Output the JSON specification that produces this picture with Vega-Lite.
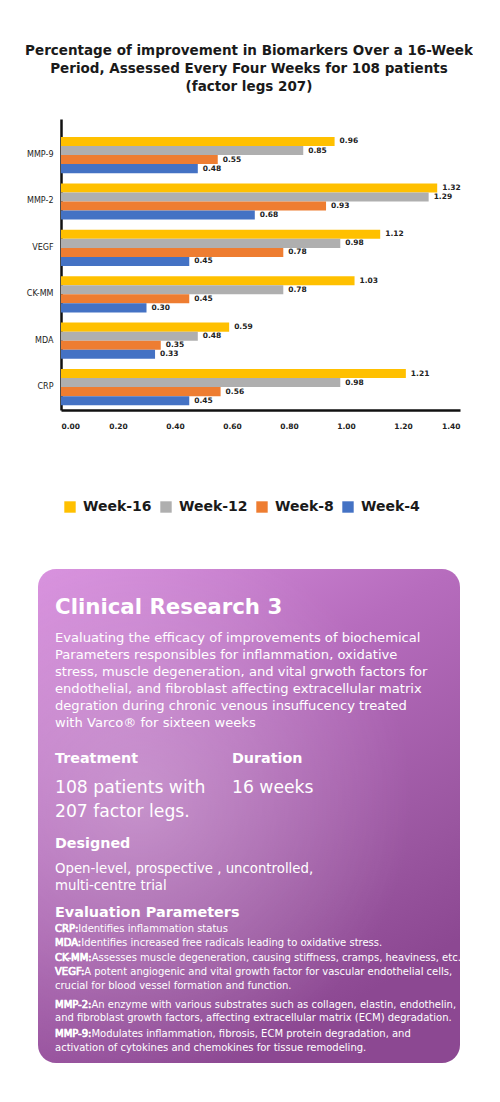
{
  "$schema": "https://vega.github.io/schema/vega-lite/v6.json",
  "background": "white",
  "padding": {"left": 25, "top": 43, "right": 0, "bottom": 0},
  "bounds": "flush",
  "spacing": 159,
  "config": {"view": {"stroke": null}},
  "vconcat": [
    {
      "width": 422,
      "height": 291,
      "title": {
        "text": ["Percentage of improvement in Biomarkers Over a 16-Week", "Period, Assessed Every Four Weeks for 108 patients", "(factor legs 207)"],
        "font": "DejaVu Sans",
        "fontSize": 13.5,
        "fontWeight": "bold",
        "lineHeight": 18,
        "color": "#1a1a1a",
        "anchor": "middle",
        "offset": 26
      },
      "data": {
        "values": [
          {"marker": "MMP-9", "week": "Week-16", "value": 0.96},
          {"marker": "MMP-9", "week": "Week-12", "value": 0.85},
          {"marker": "MMP-9", "week": "Week-8", "value": 0.55},
          {"marker": "MMP-9", "week": "Week-4", "value": 0.48},
          {"marker": "MMP-2", "week": "Week-16", "value": 1.32},
          {"marker": "MMP-2", "week": "Week-12", "value": 1.29},
          {"marker": "MMP-2", "week": "Week-8", "value": 0.93},
          {"marker": "MMP-2", "week": "Week-4", "value": 0.68},
          {"marker": "VEGF", "week": "Week-16", "value": 1.12},
          {"marker": "VEGF", "week": "Week-12", "value": 0.98},
          {"marker": "VEGF", "week": "Week-8", "value": 0.78},
          {"marker": "VEGF", "week": "Week-4", "value": 0.45},
          {"marker": "CK-MM", "week": "Week-16", "value": 1.03},
          {"marker": "CK-MM", "week": "Week-12", "value": 0.78},
          {"marker": "CK-MM", "week": "Week-8", "value": 0.45},
          {"marker": "CK-MM", "week": "Week-4", "value": 0.30},
          {"marker": "MDA", "week": "Week-16", "value": 0.59},
          {"marker": "MDA", "week": "Week-12", "value": 0.48},
          {"marker": "MDA", "week": "Week-8", "value": 0.35},
          {"marker": "MDA", "week": "Week-4", "value": 0.33},
          {"marker": "CRP", "week": "Week-16", "value": 1.21},
          {"marker": "CRP", "week": "Week-12", "value": 0.98},
          {"marker": "CRP", "week": "Week-8", "value": 0.56},
          {"marker": "CRP", "week": "Week-4", "value": 0.45}
        ]
      },
      "encoding": {
        "y": {
          "field": "marker",
          "type": "nominal",
          "sort": ["MMP-9", "MMP-2", "VEGF", "CK-MM", "MDA", "CRP"],
          "scale": {"paddingInner": 0.22, "paddingOuter": 0.245, "align": 0.79},
          "axis": {
            "title": null,
            "offset": -23,
            "ticks": false,
            "domainColor": "#111111",
            "domainWidth": 2.5,
            "labelFont": "DejaVu Sans",
            "labelFontSize": 8,
            "labelColor": "#222222",
            "labelPadding": 8,
            "grid": false
          }
        },
        "yOffset": {
          "field": "week",
          "type": "nominal",
          "sort": ["Week-16", "Week-12", "Week-8", "Week-4"],
          "scale": {"paddingInner": 0, "paddingOuter": 0}
        },
        "x": {
          "field": "value",
          "type": "quantitative",
          "scale": {"domain": [0, 1.4], "range": [23, 422], "nice": false, "zero": true},
          "axis": {
            "title": null,
            "values": [0, 0.2, 0.4, 0.6, 0.8, 1.0, 1.2, 1.4],
            "format": ".2f",
            "ticks": false,
            "grid": false,
            "domainColor": "#111111",
            "domainWidth": 2.5,
            "labelFont": "DejaVu Sans",
            "labelFontWeight": "bold",
            "labelFontSize": 7.5,
            "labelColor": "#222222",
            "labelPadding": 12
          }
        }
      },
      "layer": [
        {
          "mark": {"type": "bar"},
          "encoding": {
            "color": {
              "field": "week",
              "type": "nominal",
              "scale": {
                "domain": ["Week-16", "Week-12", "Week-8", "Week-4"],
                "range": ["#FFC000", "#AFAFAF", "#EE7D31", "#4472C4"]
              },
              "legend": {
                "orient": "none",
                "legendX": 25,
                "legendY": 381,
                "direction": "horizontal",
                "title": null,
                "symbolType": "square",
                "symbolSize": 130,
                "symbolStrokeWidth": 0,
                "symbolOpacity": 1,
                "labelFont": "DejaVu Sans",
                "labelFontWeight": "bold",
                "labelFontSize": 14,
                "labelColor": "#1a1a1a",
                "labelOffset": 6,
                "columnPadding": 7
              }
            }
          }
        },
        {
          "mark": {
            "type": "text",
            "align": "left",
            "baseline": "middle",
            "dx": 5,
            "font": "DejaVu Sans",
            "fontWeight": "bold",
            "fontSize": 7.5,
            "color": "#222222"
          },
          "encoding": {
            "text": {"field": "value", "type": "quantitative", "format": ".2f"}
          }
        }
      ]
    },
    {
      "width": 422,
      "height": 494,
      "layer": [
        {
          "data": {"values": [{}]},
          "mark": {
            "type": "rect",
            "cornerRadius": 18,
            "color": {
              "gradient": "linear",
              "x1": 0, "y1": 0, "x2": 0.5, "y2": 1,
              "stops": [
                {"offset": 0, "color": "#D890DE"},
                {"offset": 0.4, "color": "#B66CBD"},
                {"offset": 0.8, "color": "#9A56A0"},
                {"offset": 1, "color": "#8C4892"}
              ]
            }
          },
          "encoding": {}
        },
        {
          "data": {"values": [{}]},
          "mark": {
            "type": "rect",
            "cornerRadius": 18,
            "color": {
              "gradient": "radial",
              "x1": 0.28, "y1": 0.47, "r1": 0,
              "x2": 0.28, "y2": 0.47, "r2": 0.55,
              "stops": [
                {"offset": 0, "color": "rgba(255,255,255,0.28)"},
                {"offset": 0.5, "color": "rgba(255,255,255,0.14)"},
                {"offset": 1, "color": "rgba(255,255,255,0)"}
              ]
            }
          },
          "encoding": {}
        },
        {
          "data": {"values": [{"col": "a", "line": 0, "text": "Clinical Research 3"}]},
          "mark": {"type": "text", "align": "left", "baseline": "middle", "font": "DejaVu Sans", "fontWeight": "bold", "fontSize": 21.3, "color": "#FFFFFF"},
          "encoding": {
            "x": {"field": "col", "type": "nominal", "scale": {"type": "point", "domain": ["a", "b"], "range": [17, 194], "padding": 0}, "axis": null},
            "y": {"field": "line", "type": "ordinal", "scale": {"type": "point", "range": [39, 39], "padding": 0}, "axis": null},
            "text": {"field": "text"}
          }
        },
        {
          "data": {"values": [
            {"col": "a", "line": 0, "text": "Evaluating the efficacy of improvements of biochemical"},
            {"col": "a", "line": 1, "text": "Parameters responsibles for inflammation, oxidative"},
            {"col": "a", "line": 2, "text": "stress, muscle degeneration, and vital grwoth factors for"},
            {"col": "a", "line": 3, "text": "endothelial, and fibroblast affecting extracellular matrix"},
            {"col": "a", "line": 4, "text": "degration during chronic venous insuffucency treated"},
            {"col": "a", "line": 5, "text": "with Varco® for sixteen weeks"}
          ]},
          "mark": {"type": "text", "align": "left", "baseline": "middle", "font": "DejaVu Sans", "fontSize": 13.1, "color": "#FFFFFF"},
          "encoding": {
            "x": {"field": "col", "type": "nominal", "scale": {"type": "point", "domain": ["a", "b"], "range": [17, 194], "padding": 0}, "axis": null},
            "y": {"field": "line", "type": "ordinal", "scale": {"type": "point", "range": [69, 154], "padding": 0}, "axis": null},
            "text": {"field": "text"}
          }
        },
        {
          "data": {"values": [
            {"col": "a", "line": 0, "text": "Treatment"},
            {"col": "b", "line": 0, "text": "Duration"},
            {"col": "a", "line": 1, "text": "Designed"}
          ]},
          "mark": {"type": "text", "align": "left", "baseline": "middle", "font": "DejaVu Sans", "fontWeight": "bold", "fontSize": 14.3, "color": "#FFFFFF"},
          "encoding": {
            "x": {"field": "col", "type": "nominal", "scale": {"type": "point", "domain": ["a", "b"], "range": [17, 194], "padding": 0}, "axis": null},
            "y": {"field": "line", "type": "ordinal", "scale": {"type": "point", "range": [190, 275], "padding": 0}, "axis": null},
            "text": {"field": "text"}
          }
        },
        {
          "data": {"values": [
            {"col": "a", "line": 0, "text": "108 patients with"},
            {"col": "a", "line": 1, "text": "207 factor legs."},
            {"col": "b", "line": 0, "text": "16 weeks"}
          ]},
          "mark": {"type": "text", "align": "left", "baseline": "middle", "font": "DejaVu Sans", "fontSize": 17.2, "color": "#FFFFFF"},
          "encoding": {
            "x": {"field": "col", "type": "nominal", "scale": {"type": "point", "domain": ["a", "b"], "range": [17, 194], "padding": 0}, "axis": null},
            "y": {"field": "line", "type": "ordinal", "scale": {"type": "point", "range": [219, 243], "padding": 0}, "axis": null},
            "text": {"field": "text"}
          }
        },
        {
          "data": {"values": [
            {"col": "a", "line": 0, "text": "Open-level, prospective , uncontrolled,"},
            {"col": "a", "line": 1, "text": "multi-centre trial"}
          ]},
          "mark": {"type": "text", "align": "left", "baseline": "middle", "font": "DejaVu Sans", "fontSize": 13.3, "color": "#FFFFFF"},
          "encoding": {
            "x": {"field": "col", "type": "nominal", "scale": {"type": "point", "domain": ["a", "b"], "range": [17, 194], "padding": 0}, "axis": null},
            "y": {"field": "line", "type": "ordinal", "scale": {"type": "point", "range": [300, 317], "padding": 0}, "axis": null},
            "text": {"field": "text"}
          }
        },
        {
          "data": {"values": [{"col": "a", "line": 0, "text": "Evaluation Parameters"}]},
          "mark": {"type": "text", "align": "left", "baseline": "middle", "font": "DejaVu Sans", "fontWeight": "bold", "fontSize": 14.4, "color": "#FFFFFF"},
          "encoding": {
            "x": {"field": "col", "type": "nominal", "scale": {"type": "point", "domain": ["a", "b"], "range": [17, 194], "padding": 0}, "axis": null},
            "y": {"field": "line", "type": "ordinal", "scale": {"type": "point", "range": [344, 344], "padding": 0}, "axis": null},
            "text": {"field": "text"}
          }
        },
        {
          "data": {"values": [
            {"col": "a", "line": 0, "key": "CRP:", "text": "CRP:Identifies inflammation status"},
            {"col": "a", "line": 1, "key": "MDA:", "text": "MDA:Identifies increased free radicals leading to oxidative stress."},
            {"col": "a", "line": 2, "key": "CK-MM:", "text": "CK-MM:Assesses muscle degeneration, causing stiffness, cramps, heaviness, etc."},
            {"col": "a", "line": 3, "key": "VEGF:", "text": "VEGF:A potent angiogenic and vital growth factor for vascular endothelial cells,"},
            {"col": "a", "line": 4, "key": "", "text": "crucial for blood vessel formation and function."}
          ]},
          "encoding": {
            "x": {"field": "col", "type": "nominal", "scale": {"type": "point", "domain": ["a", "b"], "range": [17, 194], "padding": 0}, "axis": null},
            "y": {"field": "line", "type": "ordinal", "scale": {"type": "point", "range": [360, 417], "padding": 0}, "axis": null}
          },
          "layer": [
            {
              "mark": {"type": "text", "align": "left", "baseline": "middle", "font": "DejaVu Sans", "fontSize": 10, "color": "#FFFFFF"},
              "encoding": {"text": {"field": "text"}}
            },
            {
              "mark": {"type": "text", "align": "left", "baseline": "middle", "font": "DejaVu Sans", "fontSize": 10, "color": "#FFFFFF", "stroke": "#FFFFFF", "strokeWidth": 0.6},
              "encoding": {"text": {"field": "key"}}
            }
          ]
        },
        {
          "data": {"values": [
            {"col": "a", "line": 0, "key": "MMP-2:", "text": "MMP-2:An enzyme with various substrates such as collagen, elastin, endothelin,"},
            {"col": "a", "line": 1, "key": "", "text": "and fibroblast growth factors, affecting extracellular matrix (ECM) degradation."}
          ]},
          "encoding": {
            "x": {"field": "col", "type": "nominal", "scale": {"type": "point", "domain": ["a", "b"], "range": [17, 194], "padding": 0}, "axis": null},
            "y": {"field": "line", "type": "ordinal", "scale": {"type": "point", "range": [436, 449], "padding": 0}, "axis": null}
          },
          "layer": [
            {
              "mark": {"type": "text", "align": "left", "baseline": "middle", "font": "DejaVu Sans", "fontSize": 10, "color": "#FFFFFF"},
              "encoding": {"text": {"field": "text"}}
            },
            {
              "mark": {"type": "text", "align": "left", "baseline": "middle", "font": "DejaVu Sans", "fontSize": 10, "color": "#FFFFFF", "stroke": "#FFFFFF", "strokeWidth": 0.6},
              "encoding": {"text": {"field": "key"}}
            }
          ]
        },
        {
          "data": {"values": [
            {"col": "a", "line": 0, "key": "MMP-9:", "text": "MMP-9:Modulates inflammation, fibrosis, ECM protein degradation, and"},
            {"col": "a", "line": 1, "key": "", "text": "activation of cytokines and chemokines for tissue remodeling."}
          ]},
          "encoding": {
            "x": {"field": "col", "type": "nominal", "scale": {"type": "point", "domain": ["a", "b"], "range": [17, 194], "padding": 0}, "axis": null},
            "y": {"field": "line", "type": "ordinal", "scale": {"type": "point", "range": [465, 479], "padding": 0}, "axis": null}
          },
          "layer": [
            {
              "mark": {"type": "text", "align": "left", "baseline": "middle", "font": "DejaVu Sans", "fontSize": 10, "color": "#FFFFFF"},
              "encoding": {"text": {"field": "text"}}
            },
            {
              "mark": {"type": "text", "align": "left", "baseline": "middle", "font": "DejaVu Sans", "fontSize": 10, "color": "#FFFFFF", "stroke": "#FFFFFF", "strokeWidth": 0.6},
              "encoding": {"text": {"field": "key"}}
            }
          ]
        }
      ],
      "resolve": {"scale": {"y": "independent"}}
    }
  ]
}
